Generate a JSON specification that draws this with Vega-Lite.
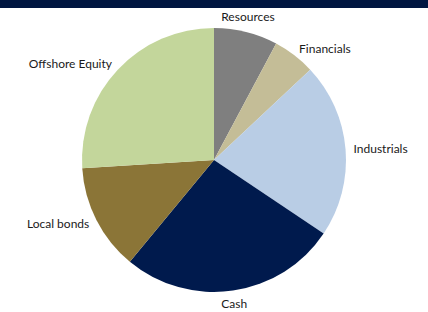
{
  "$schema": "https://vega.github.io/schema/vega-lite/v6.json",
  "width": 428,
  "height": 312,
  "autosize": {"type": "fit", "contains": "padding"},
  "padding": {"top": 8, "left": 0, "right": 0, "bottom": 0},
  "background": "#001641",
  "view": {"fill": "white", "stroke": null},
  "data": {
    "values": [
      {"idx": 1, "category": "Resources", "share": 7.8},
      {"idx": 2, "category": "Financials", "share": 5.2},
      {"idx": 3, "category": "Industrials", "share": 21.4},
      {"idx": 4, "category": "Cash", "share": 26.6},
      {"idx": 5, "category": "Local bonds", "share": 13.0},
      {"idx": 6, "category": "Offshore Equity", "share": 26.0}
    ]
  },
  "encoding": {
    "theta": {"field": "share", "type": "quantitative", "stack": true},
    "order": {"field": "idx", "type": "quantitative"}
  },
  "layer": [
    {
      "mark": {"type": "arc", "outerRadius": 132},
      "encoding": {
        "color": {
          "field": "category",
          "type": "nominal",
          "scale": {
            "domain": ["Resources", "Financials", "Industrials", "Cash", "Local bonds", "Offshore Equity"],
            "range": ["#7f7f7f", "#c4bd97", "#b9cde5", "#001a4d", "#8b7537", "#c3d69b"]
          },
          "legend": null
        }
      }
    },
    {
      "mark": {
        "type": "text",
        "radius": 140,
        "font": "Lato",
        "fontSize": 12,
        "color": "#1a1a1a",
        "align": {"expr": "datum.category == 'Financials' || datum.category == 'Industrials' ? 'left' : (datum.category == 'Local bonds' || datum.category == 'Offshore Equity' ? 'right' : 'center')"},
        "baseline": {"expr": "datum.category == 'Resources' ? 'bottom' : (datum.category == 'Cash' ? 'top' : 'middle')"}
      },
      "encoding": {
        "text": {"field": "category", "type": "nominal"}
      }
    }
  ]
}
